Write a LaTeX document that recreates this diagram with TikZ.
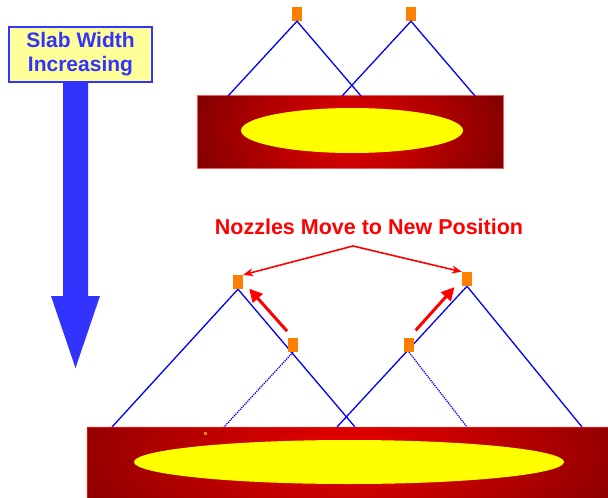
\documentclass[tikz,border=0pt]{standalone}
\usepackage{fontspec}
\setmainfont{Liberation Sans}
\usetikzlibrary{arrows.meta,shapes.geometric}
\definecolor{lblue}{RGB}{51,51,255}
\definecolor{lyellow}{RGB}{255,255,153}
\definecolor{nozzlec}{RGB}{255,128,0}
\definecolor{darkredc}{RGB}{128,0,0}
\definecolor{hotred}{RGB}{238,0,0}
\definecolor{slabyellow}{RGB}{255,255,0}
\definecolor{beamc}{RGB}{0,0,255}
\definecolor{topborder}{RGB}{255,90,90}
\begin{document}
\begin{tikzpicture}[x=1pt,y=-1pt,
  nozzlebox/.style={fill=nozzlec, draw=none, minimum width=10pt, minimum height=14pt, inner sep=0pt},
  beamline/.style={draw=beamc, line width=1.3pt},
  beamdot/.style={draw=beamc, line width=1.3pt, dash pattern=on 1.2pt off 1pt},
  coreoval/.style={ellipse, fill=slabyellow, draw=none, inner sep=0pt},
  thinred/.style={draw=red, line width=1.6pt, -{Stealth[length=10pt,width=8pt]}},
  thickred/.style={draw=red, line width=3pt, -{Triangle[length=13pt,width=13pt]}}
]
\useasboundingbox (0,0) rectangle (608,498);
\clip (0,0) rectangle (608,498);

% big blue arrow
\fill[lblue] (63,80) -- (88,80) -- (88,296) -- (100,296) -- (75.5,368) -- (51,296) -- (63,296) -- cycle;

% label
\node[name=label, align=center, font=\bfseries\fontsize{21}{24}\selectfont, text=lblue,
  fill=lyellow, draw=lblue, line width=1.3pt, minimum width=143pt, minimum height=55pt, inner sep=0pt]
  at (80.5,54.5) {Slab Width\\Increasing};

% top slab
\node[name=slabA, draw=topborder, line width=1pt, minimum width=306pt, minimum height=73pt, inner sep=0pt,
  path picture={
    \fill[darkredc] (path picture bounding box.south west) rectangle (path picture bounding box.north east);
    \shade[inner color=hotred, outer color=darkredc] (path picture bounding box.center) ellipse [x radius=165, y radius=100];
  }] at (350,131.5) {};
\node[name=ovalA, coreoval, minimum width=222pt, minimum height=45pt] at (352,130.5) {};

% top nozzles and beams
\node[name=nA1, nozzlebox] at (297,14) {};
\node[name=nA2, nozzlebox] at (411,14) {};
\coordinate (a1l) at (228,96);
\coordinate (a1r) at (361,96);
\coordinate (a2l) at (342,96);
\coordinate (a2r) at (475,96);
\draw[beamline] (a1l) -- (nA1.south) -- (a1r);
\draw[beamline] (a2l) -- (nA2.south) -- (a2r);

% bottom slab
\node[name=slabB, draw=red, line width=1pt, minimum width=525pt, minimum height=80pt, inner sep=0pt,
  path picture={
    \fill[darkredc] (path picture bounding box.south west) rectangle (path picture bounding box.north east);
    \shade[inner color=hotred, outer color=darkredc] ([shift={(-2.5,-14)}]path picture bounding box.center) ellipse [x radius=330, y radius=120];
  }] at (349.5,467) {};
\node[name=ovalB, coreoval, minimum width=430pt, minimum height=44pt] at (349,462) {};
\node[name=dot, fill=nozzlec, minimum width=3pt, minimum height=3pt, inner sep=0pt] at (205.5,433) {};

% bottom nozzles and beams
\coordinate (b1l) at (112,427);
\coordinate (b1r) at (355,427);
\coordinate (b2l) at (337,427);
\coordinate (b2r) at (582,427);
\coordinate (o1e) at (224,427);
\coordinate (o2e) at (467,427);
\node[name=nl, nozzlebox] at (238,282) {};
\node[name=nr, nozzlebox] at (467,279) {};
\node[name=ol, nozzlebox] at (293,345) {};
\node[name=or, nozzlebox] at (409,345) {};
\draw[beamline] (b1l) -- (nl.south) -- (b1r);
\draw[beamline] (b2l) -- (nr.south) -- (b2r);
\draw[beamdot] (ol.south) -- (o1e);
\draw[beamdot] (or.south) -- (o2e);
\node[nozzlebox] at (nl) {};
\node[nozzlebox] at (nr) {};
\node[nozzlebox] at (ol) {};
\node[nozzlebox] at (or) {};

% title and arrows
\node[name=title, font=\bfseries\fontsize{21.5}{24}\selectfont, text=red, inner sep=0pt] at (369,227) {Nozzles Move to New Position};
\coordinate (split) at (353,246);
\draw[thinred] (split) -- (nl.north east);
\draw[thinred] (split) -- (nr.north west);
\draw[thickred, shorten <=9pt, shorten >=9pt] (ol.north) -- (nl.east);
\draw[thickred, shorten <=10pt, shorten >=11pt] (or.north) -- (nr.west);
\end{tikzpicture}
\end{document}
